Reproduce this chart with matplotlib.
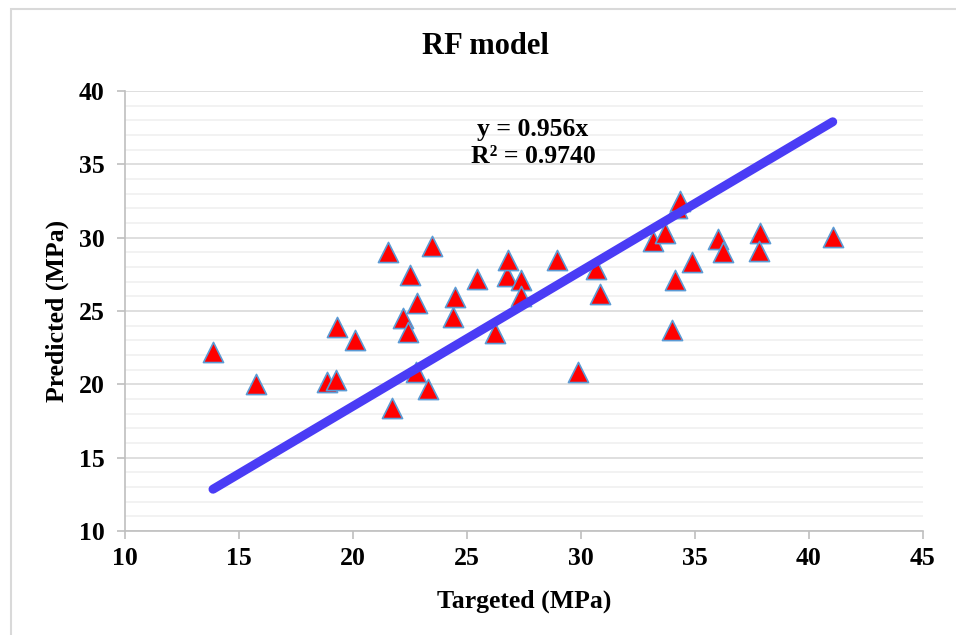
import matplotlib
matplotlib.use("Agg")
import matplotlib.pyplot as plt
from matplotlib.ticker import MultipleLocator
from matplotlib.patches import Rectangle

targeted = [13.86, 15.75, 18.86, 19.25, 19.30, 20.09, 21.54, 21.71, 22.19, 22.41,
            22.50, 22.76, 22.81, 23.29, 23.46, 24.39, 24.47, 25.44, 26.23, 26.75,
            26.80, 27.37, 27.37, 28.95, 29.87, 30.66, 30.83, 33.16, 33.68, 33.99,
            34.12, 34.21, 34.34, 34.87, 36.01, 36.23, 37.85, 37.81, 41.05]
predicted = [22.21, 20.03, 20.16, 20.30, 23.91, 23.03, 29.03, 18.39, 24.53, 23.57,
             27.46, 20.85, 25.55, 19.69, 29.43, 24.59, 25.96, 27.18, 23.50, 27.39,
             28.48, 27.12, 26.03, 28.48, 20.85, 27.87, 26.16, 29.77, 30.32, 23.71,
             27.12, 32.02, 32.50, 28.34, 29.91, 29.03, 30.32, 29.09, 30.05]

trend_x = [13.86, 41.04]
trend_y = [12.85, 37.90]

title = "RF model"
xlabel = "Targeted (MPa)"
ylabel = "Predicted (MPa)"
equation = "y = 0.956x\nR² = 0.9740"

plt.rcParams['font.family'] = ['Liberation Serif', 'DejaVu Serif']
plt.rcParams['font.weight'] = 'bold'

fig = plt.figure(figsize=(9.56, 6.35), dpi=100)
ax = fig.add_axes([125/956, 1-531/635, (923-125)/956, (531-91)/635])

# figure border
fig.patches.append(Rectangle((11/956, -0.1), 1.2, 1-9/635+0.1, transform=fig.transFigure,
                             fill=False, edgecolor='#d9d9d9', linewidth=1.5))

ax.set_xlim(10, 45)
ax.set_ylim(10, 40)
ax.xaxis.set_major_locator(MultipleLocator(5))
ax.yaxis.set_major_locator(MultipleLocator(5))
ax.yaxis.set_minor_locator(MultipleLocator(1))
ax.grid(which='major', axis='y', color='#d9d9d9', linewidth=1.2, zorder=0)
ax.grid(which='minor', axis='y', color='#f0f0f0', linewidth=1.2, zorder=0)
ax.set_axisbelow(True)
for s in ['top', 'right']:
    ax.spines[s].set_visible(False)
for s in ['left', 'bottom']:
    ax.spines[s].set_color('#bfbfbf')
    ax.spines[s].set_linewidth(1.2)
ax.tick_params(which='major', length=5.5, color='#bfbfbf', width=1.2, labelsize=18.5)
ax.tick_params(axis='x', pad=6)
ax.tick_params(axis='y', pad=9)
ax.tick_params(which='minor', length=0)
for lab in ax.get_xticklabels() + ax.get_yticklabels():
    lab.set_fontweight('bold')

ax.scatter(targeted, predicted, marker='^', s=14.5**2, c='#ff0000',
           edgecolors='#5b9bd5', linewidths=1.2, zorder=3, clip_on=False)
ax.plot(trend_x, trend_y, color='#4a3cf5', linewidth=6.5, solid_capstyle='round', zorder=4)

ax.text(27.9, 36.45, equation, ha='center', va='center', fontsize=18.5,
        fontweight='bold', linespacing=1.2, zorder=5)

fig.text(485/956, 1-47/635, title, ha='center', va='center', fontsize=22, fontweight='bold')
ax.set_xlabel(xlabel, fontsize=18.5, fontweight='bold', labelpad=14)
ax.set_ylabel(ylabel, fontsize=18.5, fontweight='bold', labelpad=7)

fig.savefig('out.png', dpi=100)
